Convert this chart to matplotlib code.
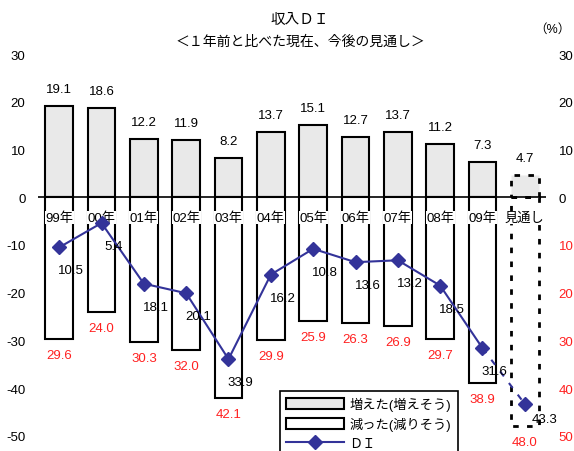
import matplotlib
matplotlib.use("Agg")
import matplotlib.pyplot as plt
from matplotlib.patches import Patch
from matplotlib.lines import Line2D
import numpy as np

plt.rcParams['font.family'] = ['Liberation Sans', 'Noto Sans CJK JP', 'DejaVu Sans']

categories = ['99年', '00年', '01年', '02年', '03年', '04年', '05年', '06年',
              '07年', '08年', '09年', '見通し']
increased = [19.1, 18.6, 12.2, 11.9, 8.2, 13.7, 15.1, 12.7, 13.7, 11.2, 7.3, 4.7]
decreased = [29.6, 24.0, 30.3, 32.0, 42.1, 29.9, 25.9, 26.3, 26.9, 29.7, 38.9, 48.0]
di = [-10.5, -5.4, -18.1, -20.1, -33.9, -16.2, -10.8, -13.6, -13.2, -18.5, -31.6, -43.3]

left_ticks = [30, 20, 10, 0, -10, -20, -30, -40, -50]
right_labels = ['30', '20', '10', '0', '10', '20', '30', '40', '50']

W, H = 574, 452
fig = plt.figure(figsize=(W / 100, H / 100), dpi=100)
ax = fig.add_axes([38 / W, 15 / H, 508 / W, 382 / H])

x = np.arange(len(categories))
n_actual = len(categories) - 1
bw = 0.66
fs = 9.5

# actual years: solid outlines
ax.bar(x[:n_actual], increased[:n_actual], width=bw, color='#e9e9e9',
       edgecolor='black', linewidth=1.5, zorder=2)
ax.bar(x[:n_actual], [-v for v in decreased[:n_actual]], width=bw, color='white',
       edgecolor='black', linewidth=1.5, zorder=2)
# outlook: dashed outlines
ax.bar(x[n_actual:], increased[n_actual:], width=bw, color='#e9e9e9',
       edgecolor='black', linewidth=2, linestyle=(0, (2, 3)), zorder=2)
ax.bar(x[n_actual:], [-v for v in decreased[n_actual:]], width=bw, color='none',
       edgecolor='black', linewidth=2, linestyle=(0, (2, 3)), zorder=2)

ax.axhline(0, color='black', linewidth=1.2, zorder=3)

# DI line
line_color = '#333399'
ax.plot(x[:n_actual], di[:n_actual], color=line_color, linewidth=1.5,
        marker='D', markersize=7, zorder=5)
ax.plot(x[n_actual - 1:], di[n_actual - 1:], color=line_color, linewidth=1.5,
        linestyle=(0, (3, 4)), zorder=5)
ax.plot(x[n_actual:], di[n_actual:], color=line_color, linestyle='none',
        marker='D', markersize=7, zorder=5)

# category labels just under the zero line
for xi, c in zip(x, categories):
    ax.text(xi, -4.3, c, ha='center', va='center', fontsize=fs, zorder=4,
            bbox=dict(facecolor='white', edgecolor='none', pad=0.3))

# value labels
for xi, v in zip(x, increased):
    ax.annotate(f'{v:.1f}', (xi, v), xytext=(0, 17), textcoords='offset pixels',
                ha='center', va='center', fontsize=fs, color='black')
for xi, v in zip(x, decreased):
    ax.annotate(f'{v:.1f}', (xi, -v), xytext=(0, -16), textcoords='offset pixels',
                ha='center', va='center', fontsize=fs, color='#ff2020')
for xi, v in zip(x, di):
    dx, dy = (20, -15) if xi == n_actual else (12, -23)
    ax.annotate(f'{abs(v):.1f}', (xi, v), xytext=(dx, dy), textcoords='offset pixels',
                ha='center', va='center', fontsize=fs, color='black', zorder=6)

ax.set_xlim(-0.5, len(categories) - 0.5)
ax.set_ylim(-50, 30)
ax.set_yticks(left_ticks)
ax.set_yticklabels([str(t) for t in left_ticks], fontsize=fs)
ax.set_xticks([])
ax.tick_params(axis='y', length=0, pad=9)
for s in ax.spines.values():
    s.set_visible(False)

ax2 = ax.twinx()
ax2.set_ylim(-50, 30)
ax2.set_yticks(left_ticks)
ax2.set_yticklabels(right_labels, fontsize=fs)
ax2.tick_params(axis='y', length=0, pad=9)
for lbl, t in zip(ax2.get_yticklabels(), left_ticks):
    lbl.set_color('#ff2020' if t < 0 else 'black')
for s in ax2.spines.values():
    s.set_visible(False)

fig.text(300 / W, 1 - 20 / H, '収入ＤＩ', ha='center', va='center', fontsize=10.5)
fig.text(300 / W, 1 - 42 / H, '＜１年前と比べた現在、今後の見通し＞', ha='center',
         va='center', fontsize=10)
fig.text(552 / W, 1 - 30 / H, '（%）', ha='center', va='center', fontsize=9)

handles = [
    Patch(facecolor='#e9e9e9', edgecolor='black', linewidth=1.5),
    Patch(facecolor='white', edgecolor='black', linewidth=1.5),
    Line2D([0], [0], color=line_color, linewidth=1.5, marker='D', markersize=7),
]
leg = fig.legend(handles, ['増えた(増えそう)', '減った(減りそう)', 'ＤＩ'],
                 loc='upper left', bbox_to_anchor=(273 / W, 1 - 385 / H),
                 frameon=True, fancybox=False, edgecolor='black', framealpha=1,
                 fontsize=fs, handlelength=4.4, handleheight=0.9,
                 labelspacing=0.45, borderpad=0.5, handletextpad=0.4)
leg.get_frame().set_linewidth(1.2)
leg.set_zorder(10)

fig.savefig('out.png', dpi=100)
